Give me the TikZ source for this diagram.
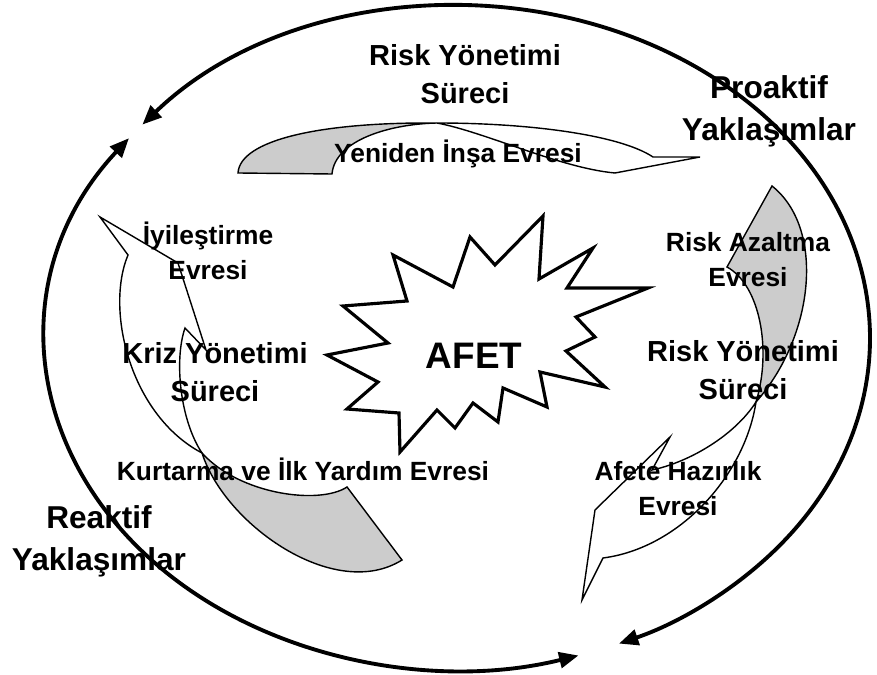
\documentclass[tikz,border=0pt]{standalone}
\usepackage{fontspec}
\setmainfont{Liberation Sans}
\usetikzlibrary{arrows.meta}

\begin{document}
\begin{tikzpicture}[x=0.02cm, y=-0.02cm,
	band/.style={draw, line width=0.8pt, line join=miter, fill=white},
	shaded/.style={band, fill=black!20},
	bigarc/.style={line width=2.2pt, {Triangle[length=11pt, width=9pt]}-{Triangle[length=11pt, width=9pt]}},
	phase/.style={font=\bfseries\fontsize{15}{20}\selectfont, align=center},
	proc/.style={font=\bfseries\fontsize{16.5}{21.5}\selectfont, align=center},
	appr/.style={font=\bfseries\fontsize{18}{24}\selectfont, align=center}]
	\useasboundingbox (0,0) rectangle (877,675);

	\coordinate (c) at (458,338);
	\path (c) ++(220:412 and 332) coordinate (a1);
	\path (c) ++(217:412 and 332) coordinate (a2);
	\draw[bigarc] (a1) arc[start angle=220, end angle=427, x radius=412, y radius=332];
	\draw[bigarc] (a2) arc[start angle=217, end angle=73, x radius=412, y radius=332];

	\draw[shaded] (238,173) .. controls (240,140) and (320,122) .. (437,123) .. controls (390,124) and (335,140) .. (332,174) -- cycle;
	\draw[band] (437,123) .. controls (530,123) and (620,135) .. (653,157) -- (700,157) -- (615,173) .. controls (560,168) and (485,132) .. (437,123) -- cycle;

	\draw[shaded] (772,186) -- (727,267) .. controls (760,285) and (772,350) .. (756,402) .. controls (815,335) and (825,228) .. (772,186) -- cycle;
	\draw[band] (756,402) .. controls (745,475) and (680,548) .. (603,558) -- (582,600) -- (595,510) -- (670,437) -- (652,470) .. controls (690,462) and (735,435) .. (756,402) -- cycle;

	\draw[shaded] (202,453) .. controls (225,525) and (335,602) .. (402,560) -- (347,487) .. controls (320,505) and (240,495) .. (202,453) -- cycle;
	\draw[band] (202,453) .. controls (130,415) and (105,310) .. (128,255) -- (100,217) -- (178,263) -- (206,350) -- (185,328) .. controls (174,360) and (180,420) .. (202,453) -- cycle;

	\draw[line width=1.8pt, line join=miter, fill=white] (327,355) -- (388,343) -- (343,306) -- (407,301) -- (393,255) -- (453,287) -- (470,237) -- (495,265) -- (543,216) -- (539,279) -- (593,248) -- (567,288) -- (648,288) -- (576,317) -- (595,337) -- (566,351) -- (605,387) -- (540,372) -- (547,407) -- (503,388) -- (498,422) -- (473,403) -- (455,428) -- (437,410) -- (400,452) -- (399,413) -- (347,409) -- (378,382) -- cycle;

	\node[proc] (p1) at (465,74) {Risk Yönetimi\\Süreci};
	\node[appr] (y1) at (769,111) {Proaktif\\Yaklaşımlar};
	\node[phase] (e1) at (458,154) {Yeniden İnşa Evresi};
	\node[phase] (e2) at (208,251) {İyileştirme\\Evresi};
	\node[phase] (e3) at (748,260) {Risk Azaltma\\Evresi};
	\node[proc] (p2) at (215,372) {Kriz Yönetimi\\Süreci};
	\node[font=\bfseries\fontsize{21}{25}\selectfont] (afet) at (474,356) {AFET};
	\node[proc] (p3) at (743,370) {Risk Yönetimi\\Süreci};
	\node[phase] (e4) at (303,469) {Kurtarma ve İlk Yardım Evresi};
	\node[phase] (e5) at (678,489) {Afete Hazırlık\\Evresi};
	\node[appr] (y2) at (99,541) {Reaktif\\Yaklaşımlar};
\end{tikzpicture}
\end{document}
